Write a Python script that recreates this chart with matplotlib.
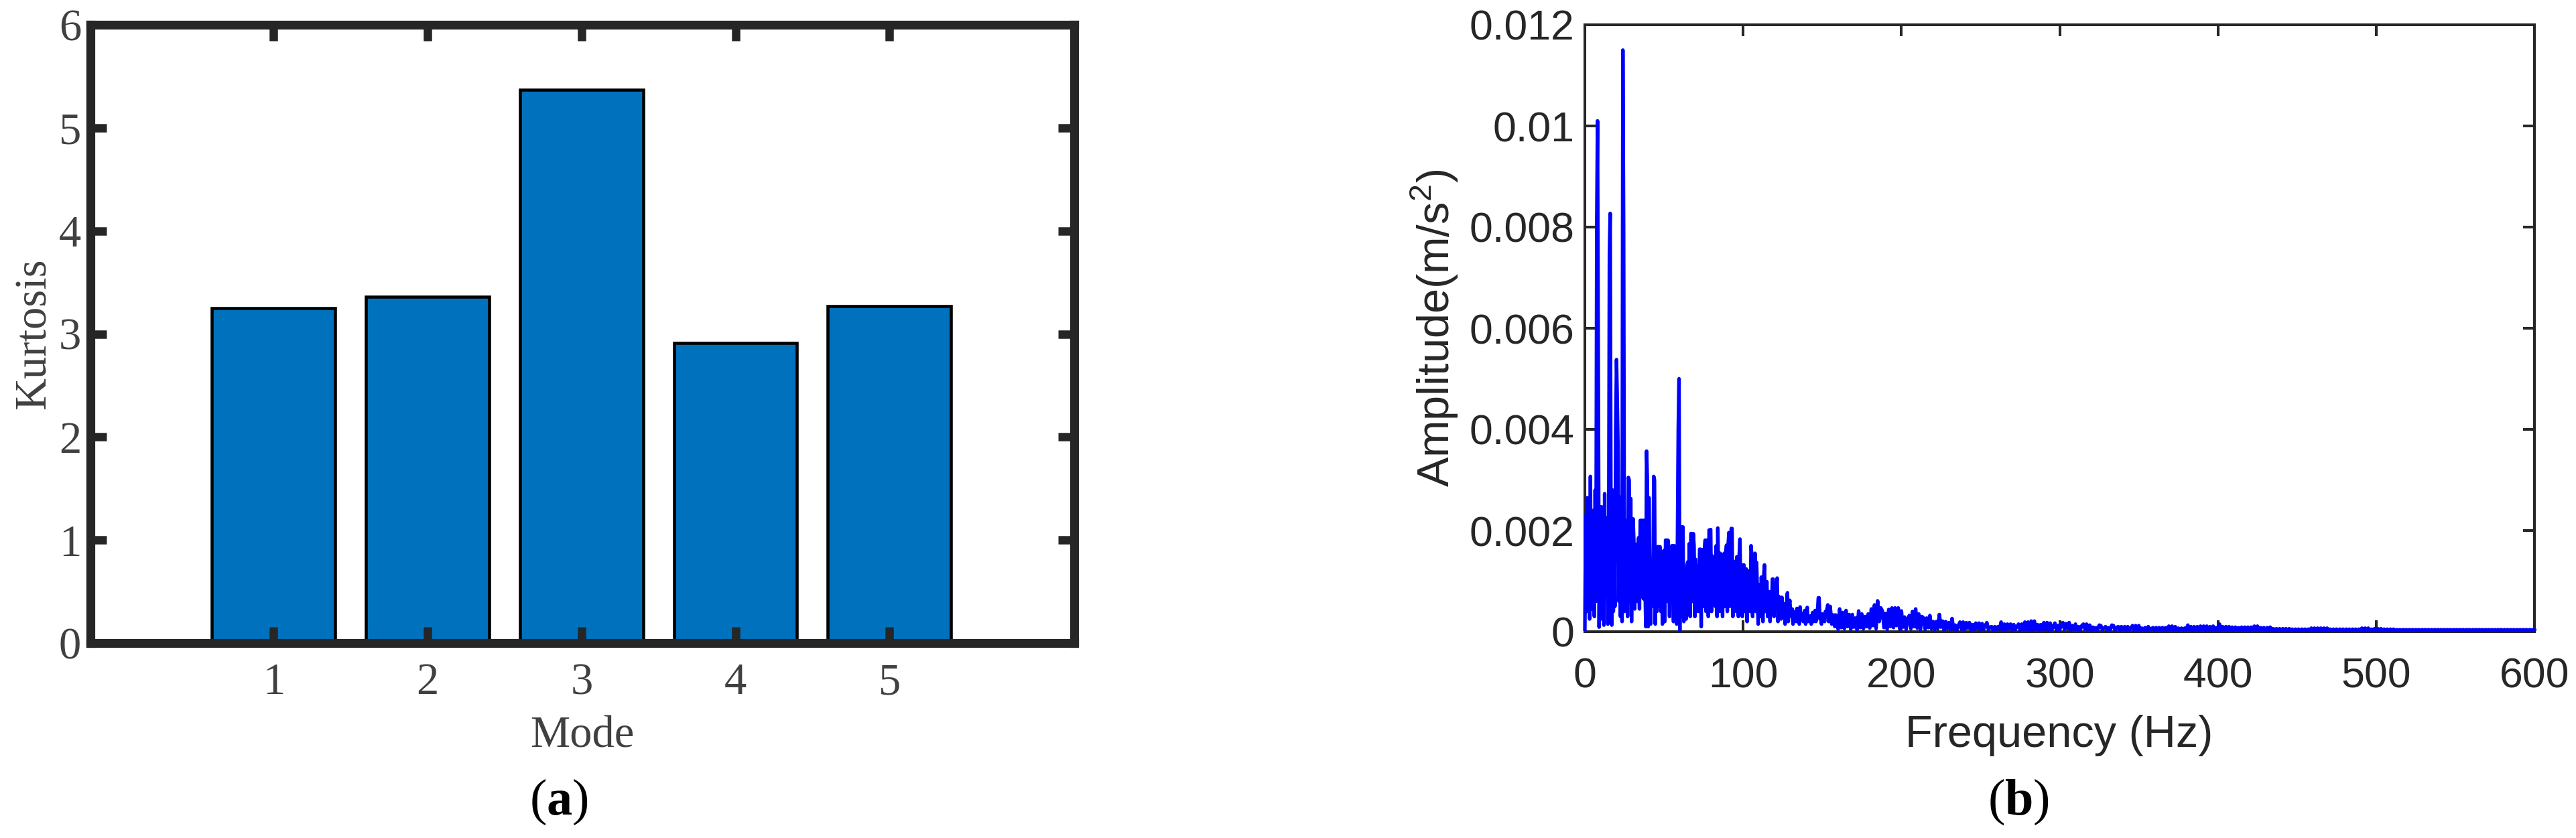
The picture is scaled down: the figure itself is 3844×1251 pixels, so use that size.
import numpy as np
import matplotlib
matplotlib.use('Agg')
import matplotlib.pyplot as plt

plt.rcParams['mathtext.fontset'] = 'custom'
plt.rcParams['mathtext.rm'] = 'Liberation Serif'
plt.rcParams['mathtext.bf'] = 'Liberation Serif:bold'
plt.rcParams['mathtext.sf'] = 'Liberation Sans'

# ---------------- panel (a) data ----------------
modes = [1, 2, 3, 4, 5]
kurtosis = [3.25, 3.36, 5.37, 2.91, 3.27]

# ---------------- panel (b) data ----------------
# amplitude, in units of 1e-5 m/s^2
AMP_UNIT = 1e-5
# 0 - 79.5 Hz, 0.5 Hz step
amp_0_80 = [
    5, 230, 40, 265, 60, 180, 25, 307, 55, 203,
    44, 240, 30, 280, 60, 810, 1010, 530, 9, 174,
    25, 247, 60, 150, 13, 273, 70, 180, 225, 15,
    120, 748, 827, 200, 13, 280, 40, 230, 50, 400,
    538, 452, 357, 60, 266, 30, 168, 20, 1150, 800,
    40, 210, 163, 220, 30, 305, 300, 60, 263, 20,
    150, 223, 174, 45, 172, 172, 60, 172, 186, 45,
    220, 220, 70, 220, 65, 220, 88, 10, 357, 300,
    10, 265, 120, 15, 140, 50, 60, 307, 300, 15,
    140, 40, 168, 168, 50, 168, 40, 126, 15, 137,
    161, 20, 181, 181, 60, 181, 160, 30, 160, 60,
    170, 170, 20, 170, 119, 137, 15, 181, 400, 500,
    2, 207, 207, 30, 207, 20, 104, 60, 25, 130,
    138, 40, 174, 30, 194, 194, 60, 194, 170, 30,
    143, 40, 130, 130, 40, 163, 163, 10, 143, 162,
    50, 163, 181, 40, 181, 181, 30, 201, 201, 202,
]
# 80 - 159.5 Hz, 0.5 Hz step
amp_80_160 = [
    40, 150, 60, 126, 126, 50, 170, 30, 205, 100,
    40, 155, 60, 130, 30, 141, 155, 50, 155, 171,
    40, 171, 196, 50, 150, 204, 204, 30, 120, 60,
    139, 40, 148, 148, 30, 150, 183, 60, 120, 30,
    132, 132, 40, 100, 124, 20, 90, 50, 120, 40,
    170, 150, 30, 140, 60, 155, 40, 137, 80, 15,
    90, 93, 30, 108, 60, 20, 110, 132, 40, 80,
    99, 30, 70, 79, 20, 70, 50, 104, 104, 30,
    80, 45, 90, 106, 20, 70, 40, 60, 25, 68,
    40, 50, 55, 15, 50, 60, 77, 20, 50, 62,
    35, 30, 45, 15, 35, 30, 40, 20, 46, 25,
    40, 15, 49, 30, 25, 35, 20, 30, 42, 15,
    35, 48, 20, 30, 25, 31, 15, 30, 38, 20,
    35, 42, 20, 30, 40, 67, 67, 25, 30, 15,
    35, 25, 30, 20, 40, 30, 45, 53, 20, 40,
    50, 32, 15, 33, 25, 33, 10, 33, 30, 20,
]
# 160 - 299 Hz, 1 Hz step
amp_160_300 = [
    5, 45, 8, 38, 6, 42, 10, 34, 5, 34,
    9, 27, 4, 41, 8, 35, 6, 30, 10, 35,
    7, 45, 12, 53, 6, 61, 20, 47, 41, 8,
    36, 5, 44, 10, 47, 8, 47, 12, 47, 5,
    41, 9, 29, 5, 25, 32, 6, 40, 10, 45,
    7, 35, 4, 30, 27, 5, 27, 8, 32, 6,
    20, 4, 20, 6, 34, 9, 21, 3, 20, 6,
    18, 4, 26, 5, 13, 3, 12, 19, 5, 19,
    4, 18, 7, 18, 3, 14, 4, 17, 6, 17,
    3, 16, 5, 12, 18, 4, 9, 10, 3, 10,
    4, 10, 5, 19, 4, 15, 3, 15, 6, 15,
    3, 14, 5, 10, 15, 3, 15, 4, 19, 5,
    19, 3, 21, 4, 21, 5, 14, 3, 14, 4,
    18, 5, 18, 3, 17, 4, 10, 17, 3, 12,
]
# 300 - 600 Hz, 1 Hz step
amp_300_600 = [
    4, 12, 18, 5, 16, 6, 18, 3, 12, 5,
    15, 4, 10, 3, 12, 15, 5, 15, 4, 13,
    3, 9, 4, 8, 3, 13, 12, 4, 7, 10,
    3, 8, 4, 13, 12, 3, 8, 10, 3, 10,
    5, 10, 3, 10, 4, 7, 12, 3, 12, 4,
    12, 3, 7, 4, 8, 3, 10, 4, 6, 8,
    3, 8, 4, 8, 3, 8, 4, 8, 3, 11,
    4, 11, 3, 10, 4, 7, 3, 7, 4, 7,
    3, 13, 4, 10, 3, 10, 4, 10, 3, 11,
    4, 11, 3, 11, 4, 10, 3, 11, 4, 8,
    4, 15, 3, 10, 4, 10, 3, 10, 4, 9,
    3, 9, 4, 8, 3, 9, 3, 9, 4, 9,
    3, 9, 3, 11, 4, 11, 3, 8, 4, 8,
    3, 8, 3, 9, 3, 6, 2, 6, 3, 6,
    2, 6, 3, 6, 2, 6, 3, 5, 2, 5,
    3, 5, 2, 5, 3, 5, 2, 5, 3, 7,
    2, 7, 3, 7, 2, 7, 3, 7, 2, 7,
    3, 5, 2, 5, 3, 5, 2, 5, 3, 5,
    2, 5, 3, 5, 2, 5, 3, 5, 2, 5,
    3, 7, 2, 7, 3, 7, 2, 5, 3, 6,
    2, 6, 3, 6, 2, 5, 3, 5, 2, 5,
    3, 5, 2, 4, 3, 4, 2, 4, 3, 4,
    2, 4, 3, 4, 2, 4, 3, 4, 2, 4,
    3, 4, 2, 4, 3, 4, 2, 4, 3, 4,
    2, 4, 3, 4, 2, 4, 3, 4, 2, 4,
    3, 4, 2, 4, 3, 4, 2, 4, 3, 4,
    2, 4, 3, 4, 2, 4, 3, 4, 2, 4,
    3, 4, 2, 4, 3, 4, 2, 4, 3, 4,
    2, 4, 3, 4, 2, 4, 3, 4, 2, 4,
    3, 4, 2, 4, 3, 4, 2, 4, 3, 4,
    3,
]

freq = np.concatenate([
    0.0 + 0.5 * np.arange(len(amp_0_80)),
    80.0 + 0.5 * np.arange(len(amp_80_160)),
    160.0 + 1.0 * np.arange(len(amp_160_300)),
    300.0 + 1.0 * np.arange(len(amp_300_600)),
])
amp = np.array(amp_0_80 + amp_80_160 + amp_160_300 + amp_300_600, dtype=float) * AMP_UNIT

x_ticks_b = [0, 100, 200, 300, 400, 500, 600]
y_ticks_b = [0, 0.002, 0.004, 0.006, 0.008, 0.010, 0.012]
y_ticklabels_b = ['0', '0.002', '0.004', '0.006', '0.008', '0.01', '0.012']

W, H = 3844, 1251
fig = plt.figure(figsize=(W / 100, H / 100), dpi=100)

def fx(px):
    return px / W

def fy(py):
    return 1 - py / H

FRAME = '#262626'
SERIF = 'Liberation Serif'
SANS = 'Liberation Sans'

# ---------------- panel (a) ----------------
ax1 = fig.add_axes([fx(135), fy(960), fx(1603) - fx(135), fy(37) - fy(960)])
ax1.bar(modes, kurtosis, width=0.8, color='#0072BD', edgecolor='black', linewidth=3.3)
ax1.set_xlim(-0.19, 6.2)
ax1.set_ylim(0, 6)
ax1.set_xticks(modes)
ax1.set_yticks(range(7))
for sp in ax1.spines.values():
    sp.set_linewidth(9.5)
    sp.set_color(FRAME)
    sp.set_capstyle('projecting')
ax1.tick_params(direction='in', length=17, width=9.0, color=FRAME, top=True, right=True,
                labelsize=48, labelcolor='#404040')
ax1.tick_params(axis='x', pad=21)
ax1.tick_params(axis='y', pad=10)
for lbl in ax1.get_xticklabels() + ax1.get_yticklabels():
    lbl.set_fontfamily(SERIF)

fig.text(fx(869), fy(1115), 'Mode', ha='center', va='baseline', fontsize=48,
         family=SERIF, color='#404040')
fig.text(fx(51), fy(498), 'Kurtosis', ha='center', va='center', rotation=90,
         fontsize=48, family=SERIF, color='#404040')
fig.text(fx(834), fy(1216), r'($\mathbf{a}$)', ha='center', va='baseline', fontsize=55,
         family=SERIF, color='black')

# ---------------- panel (b) ----------------
ax2 = fig.add_axes([fx(2365), fy(943), fx(3782) - fx(2365), fy(37) - fy(943)])
ax2.plot(freq, amp, color='#0000FF', linewidth=3.8, zorder=3, clip_on=False)
ax2.set_xlim(0, 600)
ax2.set_ylim(0, 0.012)
ax2.set_xticks(x_ticks_b)
ax2.set_yticks(y_ticks_b)
ax2.set_yticklabels(y_ticklabels_b)
for sp in ax2.spines.values():
    sp.set_linewidth(2.9)
    sp.set_color(FRAME)
    sp.set_capstyle('projecting')
ax2.tick_params(direction='in', length=12, width=2.9, color=FRAME, top=True, right=True,
                labelsize=45, labelcolor=FRAME)
ax2.tick_params(axis='x', pad=27)
ax2.tick_params(axis='y', pad=11.5)
for lbl in ax2.get_xticklabels() + ax2.get_yticklabels():
    lbl.set_fontfamily(SANS)

fig.text(fx(3073), fy(1115), 'Frequency (Hz)', ha='center', va='baseline', fontsize=48,
         family=SANS, color=FRAME)
fig.text(fx(2141), fy(490), r'Amplitude(m/s$^{\mathsf{2}}$)', ha='center', va='center',
         rotation=90, fontsize=48, family=SANS, color=FRAME)
fig.text(fx(3012), fy(1216), r'($\mathbf{b}$)', ha='center', va='baseline', fontsize=55,
         family=SERIF, color='black')

fig.savefig('out.png', dpi=100, facecolor='white')
